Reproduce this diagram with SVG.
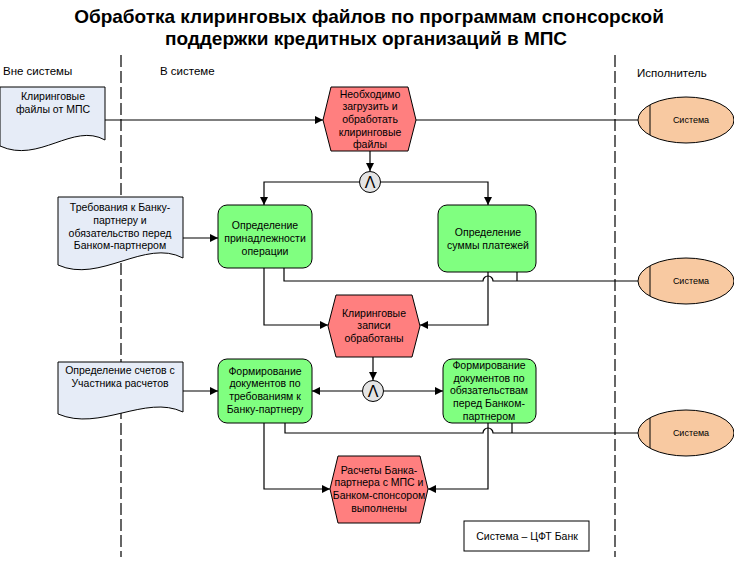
<svg xmlns="http://www.w3.org/2000/svg" width="734" height="561" viewBox="0 0 734 561">
<defs>
<marker id="arr" viewBox="0 0 10 10" refX="10" refY="5" markerWidth="8" markerHeight="8" markerUnits="userSpaceOnUse" orient="auto">
<path d="M0,0 L10,5 L0,10 Z" fill="#000"/>
</marker>
</defs>
<style>
text{font-family:"Liberation Sans",Arial,sans-serif;fill:#000}
.title{font-size:19px;font-weight:bold;text-anchor:middle}
.lane{font-size:11.5px}
.t{font-size:10.5px;text-anchor:middle}
.s{font-size:9px;text-anchor:middle}
.doc{fill:#E6ECF7;stroke:#000;stroke-width:1}
.ev{fill:#FF7F7F;stroke:#000;stroke-width:1}
.fn{fill:#80FF80;stroke:#000;stroke-width:1}
.org{fill:#F8C9A1;stroke:#000;stroke-width:1}
.and{fill:#E4E4E4;stroke:#000;stroke-width:1}
.c{fill:none;stroke:#000;stroke-width:1.2}
.ca{fill:none;stroke:#000;stroke-width:1.2;marker-end:url(#arr)}
.dash{stroke:#000;stroke-width:1.2;stroke-dasharray:12,4}
</style>
<rect width="734" height="561" fill="#fff"/>
<text class="title" x="369" y="23">Обработка клиринговых файлов по программам спонсорской</text>
<text class="title" x="366" y="45">поддержки кредитных организаций в МПС</text>
<line class="dash" x1="121" y1="55" x2="121" y2="557"/>
<line class="dash" x1="615" y1="55" x2="615" y2="557"/>
<text class="lane" x="3" y="75">Вне системы</text>
<text class="lane" x="160" y="75">В системе</text>
<text class="lane" x="637" y="77">Исполнитель</text>
<g id="connectors">
<path class="ca" d="M105,120 H323"/>
<path class="c" d="M416,120 H638"/>
<path class="ca" d="M370,151 V171"/>
<path class="ca" d="M359,182 H264 V205"/>
<path class="ca" d="M381,182 H488 V205"/>
<path class="ca" d="M183,238 H218"/>
<path class="c" d="M284,268 V281 H483 A5,5 0 0 1 493,281 H638"/>
<path class="c" d="M517,272 V281"/>
<path class="ca" d="M264,268 V325 H328"/>
<path class="ca" d="M488,272 V325 H420"/>
<path class="ca" d="M373,357 V380"/>
<path class="ca" d="M362,391 H312"/>
<path class="ca" d="M384,391 H443"/>
<path class="ca" d="M183,391 H218"/>
<path class="c" d="M285,423 V433 H483 A5,5 0 0 1 493,433 H638"/>
<path class="c" d="M512,423 V433"/>
<path class="ca" d="M264,423 V489 H330"/>
<path class="ca" d="M488,423 V489 H428"/>
</g>
<g id="doc1">
<path class="doc" d="M0,87 H105 V140 C73,122 39,164 0,146 Z"/>
<text class="t" x="53" y="100">Клиринговые</text>
<text class="t" x="53" y="113">файлы от МПС</text>
</g>
<g id="ev1">
<polygon class="ev" points="323,120 331,87 408,87 416,120 408,151 331,151"/>
<text class="t" x="370" y="98">Необходимо</text>
<text class="t" x="370" y="110">загрузить и</text>
<text class="t" x="370" y="123">обработать</text>
<text class="t" x="370" y="136">клиринговые</text>
<text class="t" x="370" y="148">файлы</text>
</g>
<g id="org1">
<ellipse class="org" cx="686" cy="120" rx="48" ry="23"/>
<line x1="650" y1="105" x2="650" y2="135" stroke="#000" stroke-width="1"/>
<text class="s" x="691" y="123">Система</text>
</g>
<g id="and1">
<circle class="and" cx="370" cy="182" r="10.5"/>
<text x="370" y="188" font-size="16" text-anchor="middle">Λ</text>
</g>
<g id="doc2">
<path class="doc" d="M58,197 H183 V258 C145,238 100,284 58,265 Z"/>
<text class="t" x="120" y="211">Требования к Банку-</text>
<text class="t" x="120" y="224">партнеру и</text>
<text class="t" x="120" y="237">обязательство перед</text>
<text class="t" x="120" y="249">Банком-партнером</text>
</g>
<g id="fn1">
<rect class="fn" x="218" y="205" width="94" height="63" rx="9"/>
<text class="t" x="265" y="229">Определение</text>
<text class="t" x="265" y="242">принадлежности</text>
<text class="t" x="265" y="255">операции</text>
</g>
<g id="fn2">
<rect class="fn" x="438" y="205" width="98" height="67" rx="9"/>
<text class="t" x="488" y="236">Определение</text>
<text class="t" x="488" y="249">суммы платежей</text>
</g>
<g id="org2">
<ellipse class="org" cx="686" cy="281" rx="48" ry="23"/>
<line x1="650" y1="266" x2="650" y2="296" stroke="#000" stroke-width="1"/>
<text class="s" x="691" y="284">Система</text>
</g>
<g id="ev2">
<polygon class="ev" points="328,326 336,295 412,295 420,326 412,357 336,357"/>
<text class="t" x="374" y="317">Клиринговые</text>
<text class="t" x="374" y="329">записи</text>
<text class="t" x="374" y="342">обработаны</text>
</g>
<g id="and2">
<circle class="and" cx="373" cy="391" r="10.5"/>
<text x="373" y="397" font-size="16" text-anchor="middle">Λ</text>
</g>
<g id="doc3">
<path class="doc" d="M58,362 H183 V412 C145,394 100,432 58,414 Z"/>
<text class="t" x="120" y="374">Определение счетов с</text>
<text class="t" x="120" y="387">Участника расчетов</text>
</g>
<g id="fn3">
<rect class="fn" x="218" y="359" width="94" height="64" rx="9"/>
<text class="t" x="265" y="375">Формирование</text>
<text class="t" x="265" y="387">документов по</text>
<text class="t" x="265" y="400">требованиям к</text>
<text class="t" x="265" y="413">Банку-партнеру</text>
</g>
<g id="fn4">
<rect class="fn" x="443" y="359" width="93" height="64" rx="9"/>
<text class="t" x="489" y="369">Формирование</text>
<text class="t" x="489" y="382">документов по</text>
<text class="t" x="489" y="394">обязательствам</text>
<text class="t" x="489" y="407">перед Банком-</text>
<text class="t" x="489" y="420">партнером</text>
</g>
<g id="org3">
<ellipse class="org" cx="686" cy="433" rx="48" ry="23"/>
<line x1="650" y1="418" x2="650" y2="448" stroke="#000" stroke-width="1"/>
<text class="s" x="691" y="436">Система</text>
</g>
<g id="ev3">
<polygon class="ev" points="330,489 338,456 420,456 428,489 420,523 338,523"/>
<text class="t" x="379" y="474">Расчеты Банка-</text>
<text class="t" x="379" y="486">партнера с МПС и</text>
<text class="t" x="379" y="499">Банком-спонсором</text>
<text class="t" x="379" y="512">выполнены</text>
</g>
<g id="note">
<rect x="464" y="521" width="125" height="30" fill="#fff" stroke="#000" stroke-width="1"/>
<text class="t" x="527" y="540">Система – ЦФТ Банк</text>
</g>
</svg>
